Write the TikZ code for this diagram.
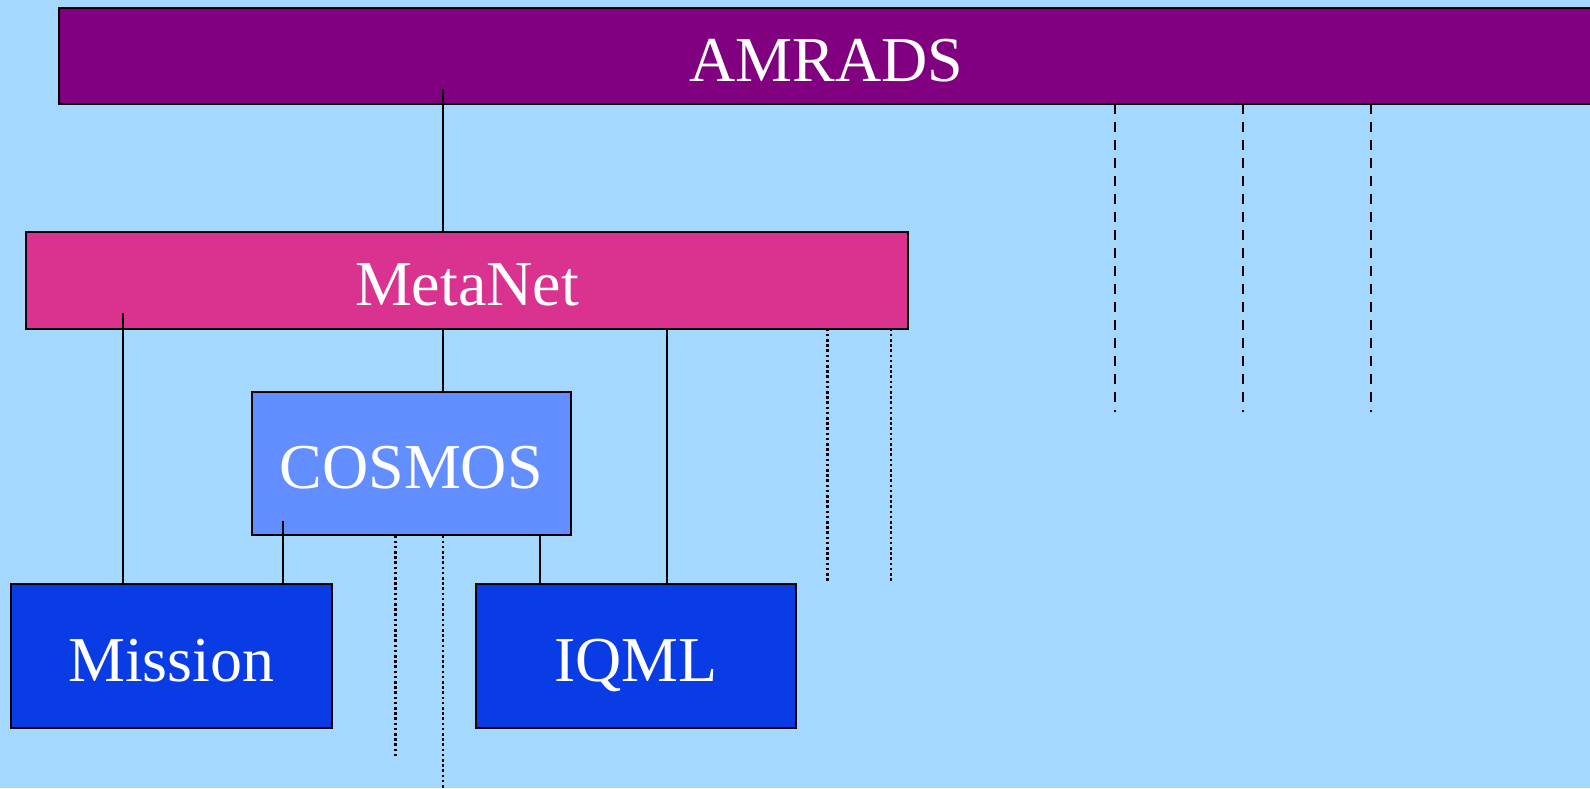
\documentclass[tikz,border=0pt]{standalone}
\usepackage{fontspec}
\setmainfont{Liberation Serif}
\definecolor{bg}{RGB}{165,216,255}
\definecolor{amradsc}{RGB}{128,0,128}
\definecolor{metac}{RGB}{218,50,143}
\definecolor{cosmosc}{RGB}{99,142,255}
\definecolor{leafc}{RGB}{10,60,230}
\begin{document}
\begin{tikzpicture}[x=0.5pt,y=-0.5pt,
  lbl/.style={text=white,font=\fontsize{32}{38}\selectfont,text height=25pt,text depth=0pt},
  box/.style={lbl,draw=black,line width=1pt,inner sep=0pt,outer sep=0pt},
  solidline/.style={draw=black,line width=1pt},
  dotline/.style={draw=black,line width=1.1pt,dash pattern=on 1.3pt off 1.3pt},
  dashline/.style={draw=black,line width=1pt,dash pattern=on 5pt off 4pt}]
\useasboundingbox (0,0) rectangle (1590,788);
\fill[bg] (0,0) rectangle (1590,788);
% boxes
\node[box,fill=amradsc,minimum width=1550*0.5pt,minimum height=96.3*0.5pt,anchor=north west] (amrads) at (58.8,8.1) {};
\node[lbl,inner sep=0pt] (amradst) at (amrads.center -| 826.4,0) {AMRADS};
\node[box,fill=metac,minimum width=881.2*0.5pt,minimum height=96.3*0.5pt,anchor=north west] (metanet) at (26.4,232.2) {MetaNet};
\node[box,fill=cosmosc,minimum width=319.4*0.5pt,minimum height=143*0.5pt,anchor=north west] (cosmos) at (251.5,392.4) {COSMOS};
\node[box,fill=leafc,minimum width=320.4*0.5pt,minimum height=144*0.5pt,anchor=north west] (mission) at (11.2,584.1) {Mission};
\node[box,fill=leafc,minimum width=320.4*0.5pt,minimum height=144*0.5pt,anchor=north west] (iqml) at (475.6,584.1) {IQML};
% columns
\coordinate (c1) at (443.1,0);
\coordinate (c2) at (122.7,0);
\coordinate (c3) at (667.2,0);
\coordinate (c4) at (282.9,0);
\coordinate (c5) at (539.5,0);
\coordinate (d1) at (395.5,757);
\coordinate (d2) at (443.1,788);
\coordinate (d3) at (827.5,582);
\coordinate (d4) at (891.3,582);
\coordinate (e1) at (1115.4,412);
\coordinate (e2) at (1243.2,412);
\coordinate (e3) at (1370.9,412);
% solid connectors
\draw[solidline] ([yshift=7.6pt]amrads.south -| c1) -- (metanet.north -| c1);
\draw[solidline] ([yshift=7.6pt]metanet.south -| c2) -- (mission.north -| c2);
\draw[solidline] (metanet.south -| c1) -- (cosmos.north -| c1);
\draw[solidline] (metanet.south -| c3) -- (iqml.north -| c3);
\draw[solidline] ([yshift=7.1pt]cosmos.south -| c4) -- (mission.north -| c4);
\draw[solidline] (cosmos.south -| c5) -- (iqml.north -| c5);
% dotted
\draw[dotline] (cosmos.south -| d1) -- (d1);
\draw[dotline] (cosmos.south -| d2) -- (d2);
\draw[dotline] (metanet.south -| d3) -- (d3);
\draw[dotline] (metanet.south -| d4) -- (d4);
% dashed
\draw[dashline] (amrads.south -| e1) -- (e1);
\draw[dashline] (amrads.south -| e2) -- (e2);
\draw[dashline] (amrads.south -| e3) -- (e3);
\end{tikzpicture}
\end{document}
